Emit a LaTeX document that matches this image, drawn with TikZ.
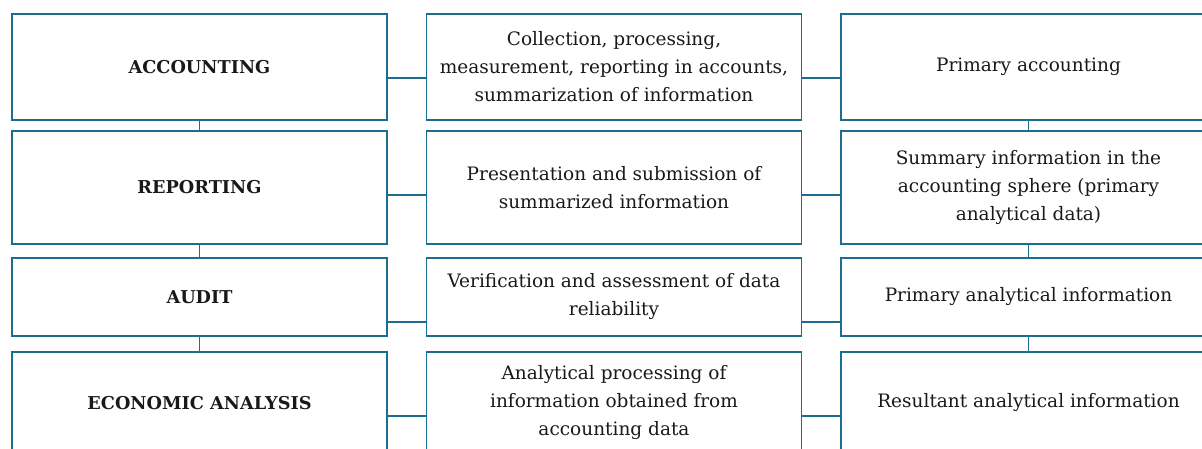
\documentclass[tikz,border=0pt]{standalone}
\usepackage{fontspec}
\setmainfont{DejaVu Serif}
\usepackage{tikz}
\definecolor{frame}{HTML}{1B6D92}

\begin{document}
\begin{tikzpicture}[x=1pt,y=-1pt,
	box/.style={draw=frame,line width=1.6pt,align=center,inner sep=0pt,minimum width=375,text=black!90,font=\fontsize{18.5}{28}\selectfont},
	head/.style={box,font=\fontsize{17.7}{28}\selectfont\bfseries},
	link/.style={draw=frame,line width=1.6pt}]
	\useasboundingbox (0,0) rectangle (1202,448);
	\clip (0,0) rectangle (1202,448);
	% left column
	\node [head,minimum height=106] (acc) at (199.5,67) {ACCOUNTING};
	\node [head,minimum height=113] (rep) at (199.5,187.5) {REPORTING};
	\node [head,minimum height=78] (aud) at (199.5,297) {AUDIT};
	\node [head,minimum height=102] (eco) at (199.5,403) {ECONOMIC ANALYSIS};
	% middle column
	\node [box,minimum height=106] (collect) at (614,67) {Collection, processing,\\measurement, reporting in accounts,\\summarization of information};
	\node [box,minimum height=113] (present) at (614,187.5) {Presentation and submission of\\summarized information};
	\node [box,minimum height=78] (verify) at (614,297) {Verification and assessment of data\\reliability};
	\node [box,minimum height=102] (process) at (614,403) {Analytical processing of\\information obtained from\\accounting data};
	% right column
	\node [box,minimum height=106] (primacc) at (1028.5,67) {Primary accounting};
	\node [box,minimum height=113] (summary) at (1028.5,187.5) {Summary information in the\\accounting sphere (primary\\analytical data)};
	\node [box,minimum height=78] (primana) at (1028.5,297) {Primary analytical information};
	\node [box,minimum height=102] (result) at (1028.5,403) {Resultant analytical information};
	% vertical links
	\draw [link] (acc.south) -- (rep.north);
	\draw [link] (rep.south) -- (aud.north);
	\draw [link] (aud.south) -- (eco.north);
	\draw [link] (primacc.south) -- (summary.north);
	\draw [link] (summary.south) -- (primana.north);
	\draw [link] (primana.south) -- (result.north);
	% horizontal links
	\draw [link] ([yshift=-11]acc.east) -- ([yshift=-11]collect.west);
	\draw [link] ([yshift=-11]collect.east) -- ([yshift=-11]primacc.west);
	\draw [link] ([yshift=-7.5]rep.east) -- ([yshift=-7.5]present.west);
	\draw [link] ([yshift=-7.5]present.east) -- ([yshift=-7.5]summary.west);
	\draw [link] ([yshift=-25]aud.east) -- ([yshift=-25]verify.west);
	\draw [link] ([yshift=-25]verify.east) -- ([yshift=-25]primana.west);
	\draw [link] ([yshift=-13]eco.east) -- ([yshift=-13]process.west);
	\draw [link] ([yshift=-13]process.east) -- ([yshift=-13]result.west);
\end{tikzpicture}
\end{document}
